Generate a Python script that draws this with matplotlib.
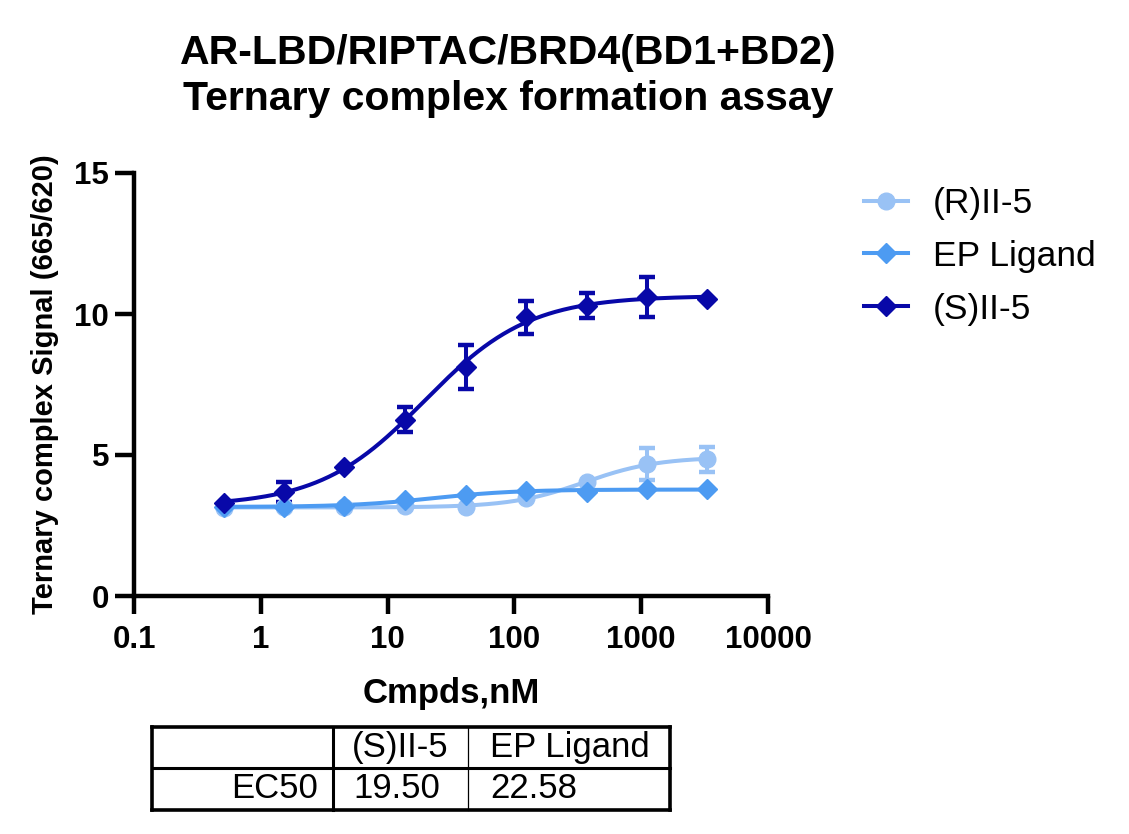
import numpy as np
import matplotlib
matplotlib.use("Agg")
from matplotlib import pyplot as plt
from matplotlib.lines import Line2D

# concentrations (nM), 3-fold dilution
conc = [0.508, 1.52, 4.57, 13.7, 41.2, 123.5, 370.4, 1111.0, 3333.0]

r_mean = [3.11, 3.15, 3.15, 3.19, 3.15, 3.49, 4.03, 4.68, 4.85]
r_err = [0.0, 0.0, 0.0, 0.0, 0.0, 0.0, 0.0, 0.58, 0.44]

ep_mean = [3.17, 3.17, 3.20, 3.40, 3.58, 3.73, 3.70, 3.79, 3.79]
ep_err = [0.0, 0.0, 0.0, 0.0, 0.0, 0.0, 0.0, 0.0, 0.0]

s_mean = [3.30, 3.69, 4.59, 6.25, 8.13, 9.88, 10.30, 10.60, 10.52]
s_err = [0.0, 0.37, 0.0, 0.45, 0.78, 0.58, 0.43, 0.71, 0.0]

table_cols = ["(S)II-5", "EP Ligand"]
table_row = "EC50"
ec50_vals = ["19.50", "22.58"]

c_r = "#99c2f5"
c_ep = "#4d9bf2"
c_s = "#0808a8"

arial = ["Liberation Sans", "DejaVu Sans"]


def fourpl(x, bottom, top, ec50, hill):
    return bottom + (top - bottom) / (1.0 + (ec50 / x) ** hill)


def fit_4pl(x, y, ec50=None):
    # crude grid fit, bottom/top solved by least squares
    x = np.asarray(x)
    y = np.asarray(y)
    ec_grid = [ec50] if ec50 else np.logspace(0, 4, 200)
    best = None
    for ec in ec_grid:
        for h in np.linspace(0.5, 3.0, 51):
            f = 1.0 / (1.0 + (ec / x) ** h)
            A = np.column_stack([1 - f, f])
            coef, *_ = np.linalg.lstsq(A, y, rcond=None)
            res = np.sum((A @ coef - y) ** 2)
            if best is None or res < best[0]:
                best = (res, coef[0], coef[1], ec, h)
    return best[1:]


fig = plt.figure(figsize=(11.29, 8.34), dpi=100)
ax = fig.add_axes([134 / 1129, 1 - 596 / 834, (768 - 134) / 1129, (596 - 173) / 834])

xs = np.logspace(np.log10(conc[0]), np.log10(conc[-1]), 300)
series = [
    ("(R)II-5", r_mean, r_err, c_r, "o", 12, None),
    ("EP Ligand", ep_mean, ep_err, c_ep, "D", 10, float(ec50_vals[1])),
    ("(S)II-5", s_mean, s_err, c_s, "D", 10, float(ec50_vals[0])),
]
handles = []
for name, m, e, col, mk, ms, ec in series:
    p = fit_4pl(conc, m, ec)
    ax.plot(xs, fourpl(xs, *p), color=col, lw=2.9, zorder=2)
    e = np.array(e)
    mask = e > 0
    ax.errorbar(np.array(conc)[mask], np.array(m)[mask], yerr=e[mask], fmt="none",
                ecolor=col, elinewidth=2.9, capsize=6, capthick=3.2, zorder=3)
    ax.plot(conc, m, ls="none", marker=mk, ms=ms, color=col, mec=col, zorder=4)
    handles.append(Line2D([], [], color=col, lw=2.9, marker=mk, ms=ms, mec=col))

ax.set_xscale("log")
ax.set_xlim(0.1, 10000)
ax.set_ylim(0, 15)
ax.set_xticks([0.1, 1, 10, 100, 1000, 10000])
ax.set_xticklabels(["0.1", "1", "10", "100", "1000", "10000"])
ax.xaxis.set_minor_locator(matplotlib.ticker.NullLocator())
ax.set_yticks([0, 5, 10, 15])
ax.set_yticklabels(["0", "5", "10", "15"])
for s in ["top", "right"]:
    ax.spines[s].set_visible(False)
for s in ["left", "bottom"]:
    ax.spines[s].set_linewidth(3.2)
ax.tick_params(axis="x", which="major", length=13, width=3.2, pad=8)
ax.tick_params(axis="y", which="major", length=14, width=3.2, pad=4)
for lab in ax.get_xticklabels() + ax.get_yticklabels():
    lab.set_family(arial)
    lab.set_fontweight("bold")
    lab.set_fontsize(22.5)

ax.set_xlabel("Cmpds,nM", family=arial, fontweight="bold", fontsize=25, labelpad=16)
ax.set_ylabel("Ternary complex Signal (665/620)", family=arial, fontweight="bold",
              fontsize=21, labelpad=11)

fig.text(508 / 1129, 1 - 53 / 834, "AR-LBD/RIPTAC/BRD4(BD1+BD2)", family=arial,
         fontweight="bold", fontsize=29.5, ha="center", va="center")
fig.text(508 / 1129, 1 - 99 / 834, "Ternary complex formation assay", family=arial,
         fontweight="bold", fontsize=29.5, ha="center", va="center")

leg = fig.legend(handles, [s[0] for s in series], loc="upper left",
                 bbox_to_anchor=(864 / 1129, 1 - 187 / 834), frameon=False,
                 prop={"family": arial, "size": 25.5}, handlelength=1.25,
                 handletextpad=0.7, labelspacing=0.56, borderpad=0, borderaxespad=0)

# EC50 table
x0, x1, x2, x3 = 152, 333, 468, 670
y0, y1, y2 = 727, 768, 810


def fx(px):
    return px / 1129


def fy(py):
    return 1 - py / 834


def hline(xa, xb, y, lw):
    fig.add_artist(Line2D([fx(xa), fx(xb)], [fy(y), fy(y)], color="black", lw=lw,
                          solid_capstyle="projecting"))


def vline(x, ya, yb, lw):
    fig.add_artist(Line2D([fx(x), fx(x)], [fy(ya), fy(yb)], color="black", lw=lw,
                          solid_capstyle="projecting"))


hline(x0, x3, y0, 2.6)
hline(x0, x3, y2, 2.6)
hline(x0, x3, y1, 2.2)
vline(x0, y0, y2, 2.6)
vline(x3, y0, y2, 2.6)
vline(x1, y0, y2, 2.2)
vline(x2, y0, y2, 0.9)

ty1 = (y0 + y1) / 2
ty2 = (y1 + y2) / 2
fig.text(fx((x1 + x2) / 2), fy(ty1), table_cols[0], family=arial, fontsize=25,
         ha="center", va="center")
fig.text(fx(x2 + 22), fy(ty1), table_cols[1], family=arial, fontsize=25,
         ha="left", va="center")
fig.text(fx(x1 - 15), fy(ty2), table_row, family=arial, fontsize=25,
         ha="right", va="center")
fig.text(fx((x1 + x2) / 2 - 4), fy(ty2), ec50_vals[0], family=arial, fontsize=25,
         ha="center", va="center")
fig.text(fx(x2 + 22), fy(ty2), ec50_vals[1], family=arial, fontsize=25,
         ha="left", va="center")

fig.savefig("out.png", dpi=100)
